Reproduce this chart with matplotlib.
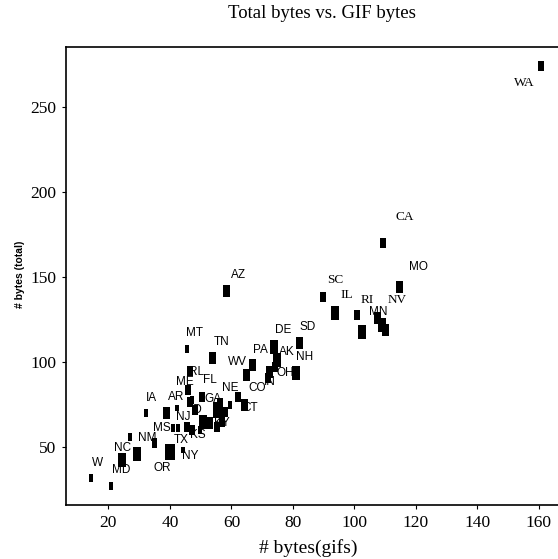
import matplotlib
matplotlib.use("Agg")
import matplotlib.pyplot as plt
import numpy as np

# ---- data ----
gif_bytes = [14.3, 20.8, 24.4, 27.0, 29.3, 35.1, 32.2, 39.0, 42.3, 40.0, 44.2,
             45.5, 53.7, 46.5, 45.9, 50.4, 47.2, 46.5, 48.1, 50.7, 53.0, 55.6,
             56.3, 56.9, 55.3, 41.0, 42.6, 45.5, 47.2, 49.8, 57.9, 59.5,
             62.1, 64.4, 66.7, 65.0, 73.8, 74.8, 74.1, 72.5, 71.9, 81.0, 82.0,
             58.5, 89.8, 93.7, 100.8, 102.4, 107.6, 108.9, 110.2, 114.8,
             109.3, 160.7]
total_bytes = [31.8, 27.1, 42.4, 55.9, 45.9, 52.4, 70.0, 70.0, 72.9, 47.1, 48.2,
               107.6, 102.4, 94.7, 83.5, 79.4, 77.6, 76.5, 71.8, 64.7, 64.1, 71.8,
               75.9, 64.7, 61.8, 61.2, 61.2, 61.8, 60.0, 60.0, 70.6, 74.7,
               79.4, 74.7, 98.2, 92.4, 108.8, 101.2, 97.1, 94.1, 90.6, 93.5, 111.2,
               141.8, 138.2, 128.8, 127.6, 117.6, 125.9, 121.8, 118.8, 144.1,
               170.0, 274.1]
marker_h = [8, 8, 14, 7, 14, 9, 8, 12, 6, 16, 6,
            7, 12, 10, 10, 10, 8, 10, 10, 14, 12, 16,
            10, 10, 10, 8, 8, 10, 10, 8, 10, 8,
            10, 12, 12, 12, 14, 14, 10, 12, 10, 14, 12,
            12, 10, 14, 10, 14, 12, 14, 12, 12,
            10, 10]

labels = ["W", "MD", "NC", "NM", "IA", "AR", "MS", "NJ", "TX", "KS", "NY", "OR",
          "MT", "TN", "RL", "FL", "ME", "GA", "ID", "KY", "NE", "CO", "IN", "CT",
          "WV", "PA", "AK", "DE", "SD", "NH", "OH", "AZ", "SC", "IL", "RI", "MN",
          "NV", "MO", "CA", "WA"]
label_x = [16.3, 24.1, 24.7, 32.5, 34.1, 42.0, 37.4, 44.2, 43.6, 49.1, 46.5, 37.4,
           48.1, 56.9, 48.8, 53.0, 44.9, 54.0, 48.8, 56.9, 59.5, 68.3, 72.5, 66.0,
           62.1, 69.3, 78.0, 76.7, 84.9, 83.9, 77.4, 62.4, 93.7, 97.6, 104.1, 107.6,
           113.8, 120.7, 116.4, 155.4]
label_y = [40.6, 36.5, 49.4, 55.3, 78.8, 79.4, 61.2, 67.6, 54.1, 57.1, 44.7, 37.6,
           117.1, 111.8, 94.1, 89.4, 88.2, 78.2, 71.8, 64.1, 84.7, 84.7, 88.2, 72.9,
           100.0, 107.1, 105.9, 118.8, 120.6, 102.9, 93.5, 151.2, 148.2, 139.4, 136.5, 129.4,
           136.5, 155.9, 185.3, 264.1]
serif_labels = {"SC", "IL", "RI", "NV", "CA", "WA"}

x_ticks = [20, 40, 60, 80, 100, 120, 140, 160]
y_ticks = [50, 100, 150, 200, 250]

# ---- figure ----
W, H = 558, 559
fig = plt.figure(figsize=(W / 100, H / 100), dpi=100)
ax_l, ax_r, ax_t, ax_b = 66, 558, 47, 505
ax = fig.add_axes([ax_l / W, 1 - ax_b / H, (ax_r - ax_l) / W, (ax_b - ax_t) / H])

rect = [(-0.28, -0.5), (0.28, -0.5), (0.28, 0.5), (-0.28, 0.5), (-0.28, -0.5)]
sizes = [(0.75 * h) ** 2 for h in marker_h]
ax.scatter(gif_bytes, total_bytes, s=sizes, marker=rect, c="black",
           edgecolors="none", zorder=3)

for t, lx, ly in zip(labels, label_x, label_y):
    if t in serif_labels:
        ax.text(lx, ly, t, ha="center", va="center", fontsize=9.5,
                family="Liberation Serif", color="black", zorder=4)
    else:
        ax.text(lx, ly, t, ha="center", va="center", fontsize=8.5,
                family="Liberation Sans", color="black", zorder=4)

ax.set_xlim(6.2, 166.2)
ax.set_ylim(15.9, 285.3)
ax.set_xticks(x_ticks)
ax.set_yticks(y_ticks)
ax.tick_params(direction="out", length=3, width=0.8, labelsize=12.5, pad=4)
for lab in ax.get_xticklabels() + ax.get_yticklabels():
    lab.set_family("Liberation Serif")
ax.spines["right"].set_visible(False)
for s in ["left", "top", "bottom"]:
    ax.spines[s].set_linewidth(1.2)

fig.text(322 / W, 1 - 14 / H, "Total bytes vs. GIF bytes", ha="center", va="center",
         fontsize=13.5, family="Liberation Serif")
fig.text(308 / W, 1 - 548 / H, "# bytes(gifs)", ha="center", va="center",
         fontsize=14, family="Liberation Serif")
fig.text(20 / W, 1 - 274 / H, "# bytes (total)", ha="center", va="center",
         rotation=90, fontsize=7.5, family="Liberation Sans", weight="bold")

fig.savefig("out.png", dpi=100)
